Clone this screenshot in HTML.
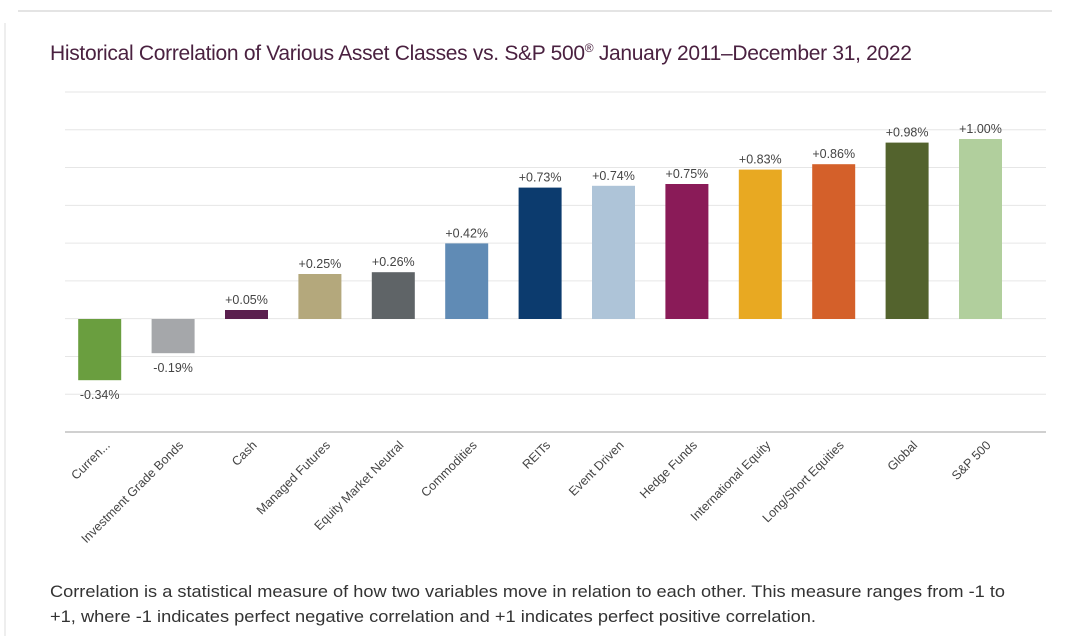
<!DOCTYPE html>
<html><head><meta charset="utf-8"><style>
body{margin:0;background:#fff;width:1070px;height:636px;overflow:hidden;font-family:"Liberation Sans",sans-serif}
</style></head><body>
<svg width="1070" height="636" style="position:absolute;left:0;top:0">
<line x1="18" y1="11" x2="1052" y2="11" stroke="#c8c8c8"/>
<line x1="5" y1="23" x2="5" y2="636" stroke="#dcdcdc"/>
<text x="50" y="60" font-size="21" fill="#4a2140" letter-spacing="-0.3">Historical Correlation of Various Asset Classes vs. S&amp;P 500<tspan font-size="12" dy="-8">®</tspan><tspan dy="8"> January 2011–December 31, 2022</tspan></text>
<g id="grid"></g><g id="bars"></g><g id="labels"></g>
<text x="50" y="597" font-size="17" fill="#333" textLength="955" lengthAdjust="spacingAndGlyphs">Correlation is a statistical measure of how two variables move in relation to each other. This measure ranges from -1 to</text>
<text x="50" y="622" font-size="17" fill="#333" textLength="766" lengthAdjust="spacingAndGlyphs">+1, where -1 indicates perfect negative correlation and +1 indicates perfect positive correlation.</text>
</svg>
<script>
const categories=["Curren...","Investment Grade Bonds","Cash","Managed Futures","Equity Market Neutral","Commodities","REITs","Event Driven","Hedge Funds","International Equity","Long/Short Equities","Global","S&P 500"];
const values=[-0.34,-0.19,0.05,0.25,0.26,0.42,0.73,0.74,0.75,0.83,0.86,0.98,1.00];
const valueLabels=["-0.34%","-0.19%","+0.05%","+0.25%","+0.26%","+0.42%","+0.73%","+0.74%","+0.75%","+0.83%","+0.86%","+0.98%","+1.00%"];
const colors=["#6a9e3f","#a5a7aa","#5a1f4e","#b4a87c","#5f6467","#608bb5","#0c3b6e","#aec4d8","#8a1b58","#e8a922","#d4602a","#53632d","#b1cf9d"];
const NS="http://www.w3.org/2000/svg";
const zeroY=319,scale=180,x0=63,step=73.4,bw=43;
const y=v=>zeroY-v*scale;
const xc=i=>x0+step*(i+0.5);
function mk(t,a,p){const e=document.createElementNS(NS,t);for(const k in a)e.setAttribute(k,a[k]);p.appendChild(e);return e;}
const grid=document.getElementById('grid');
for(let k=0;k<10;k++){const gy=92+k*(340/9);
const l=mk('line',{x1:65,x2:1046,y1:gy,y2:gy,stroke:k==9?'#d0d0d0':'#e6e6e6','stroke-width':k==9?2:1},grid);

}
const bars=document.getElementById('bars'),labs=document.getElementById('labels');
values.forEach((v,i)=>{
const top=Math.min(y(v),zeroY),h=Math.abs(y(v)-zeroY);
const r=mk('rect',{x:xc(i)-bw/2,y:top,width:bw,height:h,fill:colors[i]},bars);


const ty=v>=0?y(v)-6:y(v)+19;
const t=mk('text',{x:xc(i),y:ty,'text-anchor':'middle','font-size':12.5,fill:'#444'},labs);
t.textContent=valueLabels[i];


const c=mk('text',{x:0,y:0,'text-anchor':'end','font-size':12.5,fill:'#444',transform:`translate(${xc(i)+11},${446}) rotate(-45)`},labs);
c.textContent=categories[i];


});
</script>
</body></html>
